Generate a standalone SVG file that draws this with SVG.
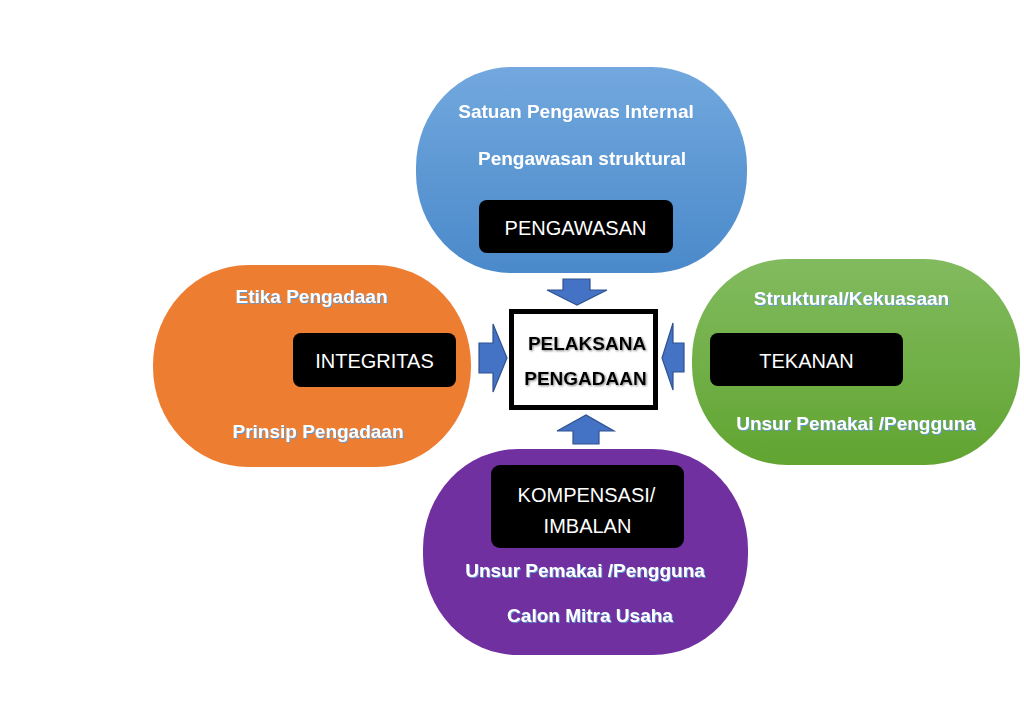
<svg xmlns="http://www.w3.org/2000/svg" width="1024" height="701" viewBox="0 0 1024 701">
  <style>
    .lbl { font-family: "Liberation Sans", Arial, sans-serif; font-weight: bold; font-size: 19px; fill: #ffffff; text-anchor: middle; }
    .box { fill: #000000; }
    .boxtxt { font-family: "Liberation Sans", Arial, sans-serif; font-size: 20px; fill: #ffffff; text-anchor: middle; }
    .ctr { font-family: "Liberation Sans", Arial, sans-serif; font-weight: bold; font-size: 19px; fill: #000000; text-anchor: middle; }
    .arrow { fill: #4472C4; stroke: #2F528F; stroke-width: 1.2; }
  </style>
  <defs>
    <linearGradient id="gBlue" x1="0" y1="0" x2="0" y2="1">
      <stop offset="0" stop-color="#72A8DE"/>
      <stop offset="1" stop-color="#4A89CA"/>
    </linearGradient>
    <linearGradient id="gGreen" x1="0" y1="0" x2="0" y2="1">
      <stop offset="0" stop-color="#82BB5F"/>
      <stop offset="1" stop-color="#61A431"/>
    </linearGradient>
    <filter id="glow" x="-10%" y="-30%" width="120%" height="160%">
      <feDropShadow dx="1" dy="1" stdDeviation="0.6" flood-color="#5B9BD5" flood-opacity="0.95"/>
    </filter>
    <filter id="shadowDark" x="-10%" y="-30%" width="120%" height="160%">
      <feDropShadow dx="1" dy="1" stdDeviation="0.8" flood-color="#666666" flood-opacity="0.8"/>
    </filter>
  </defs>
  <rect width="1024" height="701" fill="#ffffff"/>

  <g id="pengawasan">
    <rect x="416" y="67" width="331" height="206" rx="95" ry="100" fill="url(#gBlue)"/>
    <text class="lbl" x="576" y="118" filter="url(#glow)">Satuan Pengawas Internal</text>
    <text class="lbl" x="582" y="165" filter="url(#glow)">Pengawasan struktural</text>
    <rect class="box" x="479" y="200" width="194" height="53" rx="8"/>
    <text class="boxtxt" x="575.5" y="235">PENGAWASAN</text>
  </g>

  <g id="integritas">
    <rect x="153" y="265" width="318" height="202" rx="95" ry="100" fill="#ED7D31"/>
    <text class="lbl" x="311.5" y="303" filter="url(#glow)">Etika Pengadaan</text>
    <text class="lbl" x="318" y="438" filter="url(#glow)">Prinsip Pengadaan</text>
    <rect class="box" x="293" y="333" width="163" height="54" rx="8"/>
    <text class="boxtxt" x="374.5" y="368">INTEGRITAS</text>
  </g>

  <g id="tekanan">
    <rect x="692" y="259" width="328" height="206" rx="95" ry="100" fill="url(#gGreen)"/>
    <text class="lbl" x="851.5" y="305" filter="url(#glow)">Struktural/Kekuasaan</text>
    <rect class="box" x="710" y="333" width="193" height="53" rx="8"/>
    <text class="boxtxt" x="806.5" y="368">TEKANAN</text>
    <text class="lbl" x="856" y="430" filter="url(#glow)">Unsur Pemakai /Pengguna</text>
  </g>

  <g id="kompensasi">
    <rect x="423" y="449" width="325" height="206" rx="95" ry="100" fill="#7030A0"/>
    <rect class="box" x="491" y="465" width="193" height="83" rx="9"/>
    <text class="boxtxt" x="586.5" y="502">KOMPENSASI/</text>
    <text class="boxtxt" x="587.5" y="533">IMBALAN</text>
    <text class="lbl" x="585" y="577" filter="url(#glow)">Unsur Pemakai /Pengguna</text>
    <text class="lbl" x="590" y="622" filter="url(#glow)">Calon Mitra Usaha</text>
  </g>

  <g id="pelaksana">
    <rect x="511.5" y="311.5" width="144" height="96" fill="#ffffff" stroke="#000000" stroke-width="5"/>
    <text class="ctr" x="587" y="350" filter="url(#shadowDark)">PELAKSANA</text>
    <text class="ctr" x="585.5" y="385" filter="url(#shadowDark)">PENGADAAN</text>
  </g>

  <g id="connectors">
    <polygon class="arrow" points="563,279 590,279 590,290 607,290 577,305 547,290 563,290"/>
    <polygon class="arrow" points="479,343 493,343 493,324 507,358 493,392 493,373 479,373"/>
    <polygon class="arrow" points="684,343 673,343 673,323 662,358 673,390 673,372 684,372"/>
    <polygon class="arrow" points="573,444 599,444 599,431 614,431 586,415 557,431 573,431"/>
  </g>
</svg>
